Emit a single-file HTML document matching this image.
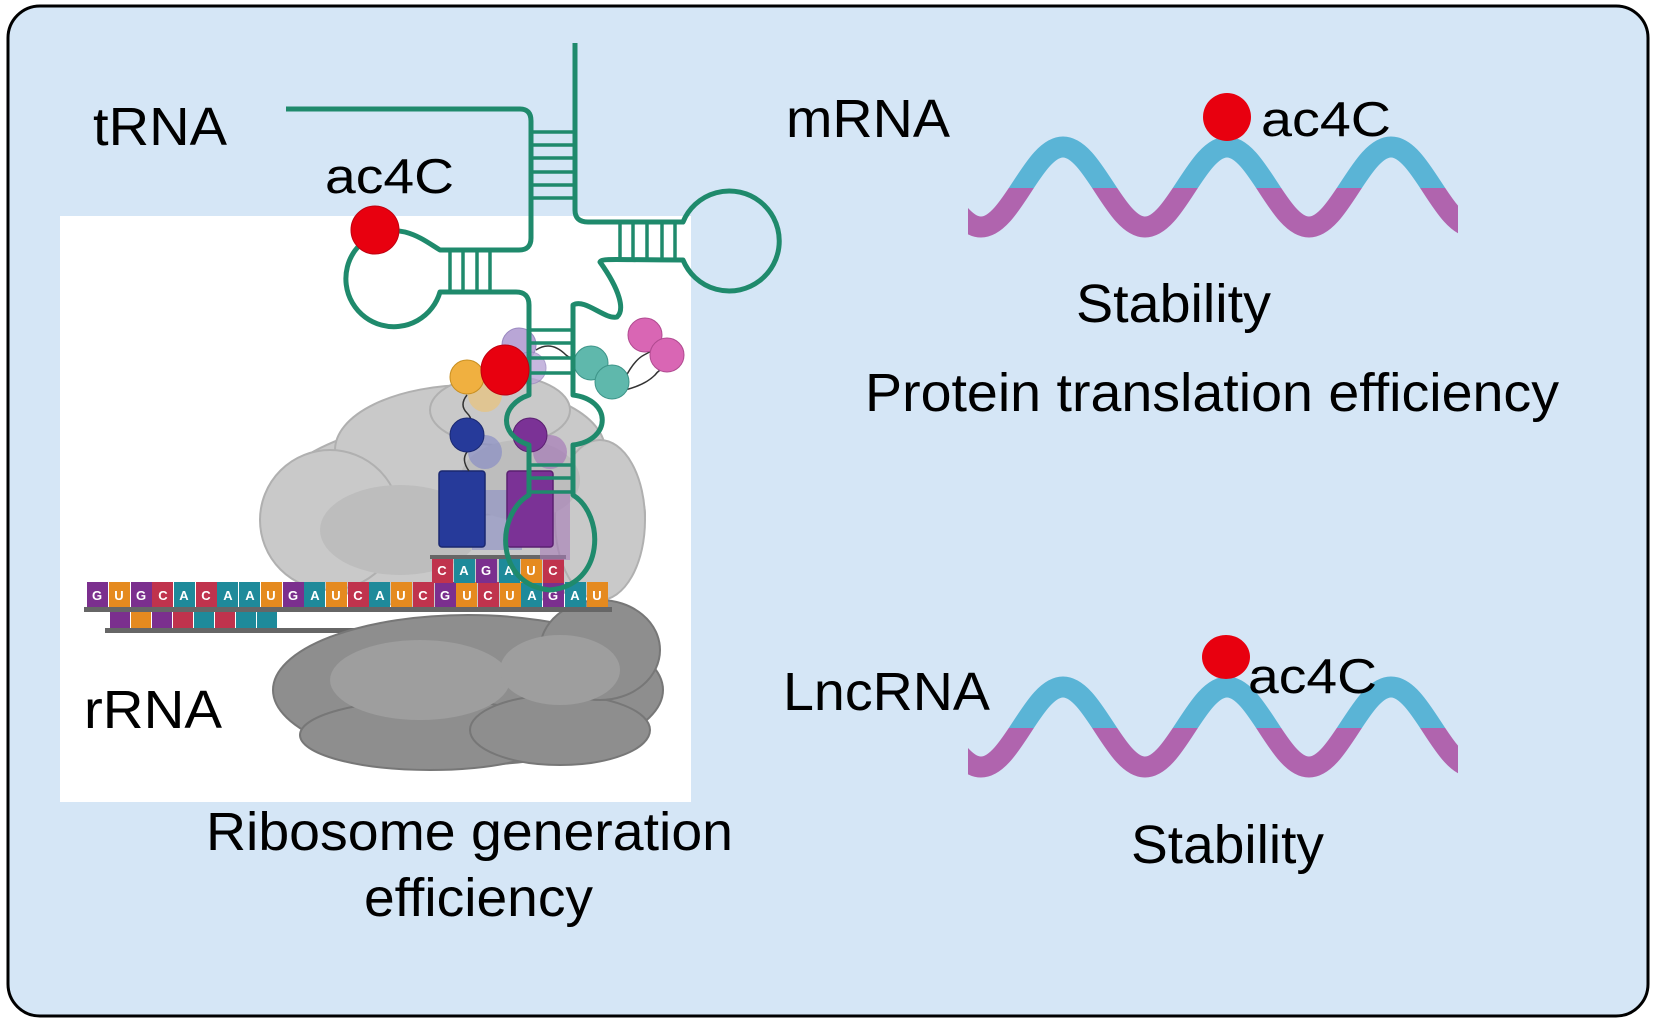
<!DOCTYPE html>
<html><head><meta charset="utf-8"><style>
html,body{margin:0;padding:0;background:#fff;}
svg{display:block;}
text{font-family:"Liberation Sans",Arial,sans-serif;fill:#000;}
.t{font-size:54px;}
.s{font-size:49px;}
.l{font-family:"Liberation Sans",sans-serif;font-size:13px;font-weight:bold;fill:#fff;}
</style></head><body>
<svg width="1654" height="1023" viewBox="0 0 1654 1023" xmlns="http://www.w3.org/2000/svg">
<defs>
<clipPath id="cw"><rect x="968" y="0" width="490" height="1023"/></clipPath>
<clipPath id="top"><rect x="0" y="0" width="1654" height="188"/></clipPath>
<clipPath id="bot"><rect x="0" y="188" width="1654" height="200"/></clipPath>
<path id="wave" d="M899,147 C929,147 951,227 981,227 C1011,227 1033,147 1063,147 C1093,147 1115,227 1145,227 C1175,227 1197,147 1227,147 C1257,147 1279,227 1309,227 C1339,227 1361,147 1391,147 C1421,147 1443,227 1473,227 C1503,227 1525,147 1555,147" fill="none" stroke-width="21"/>
</defs>
<rect x="8" y="6" width="1640" height="1010" rx="32" fill="#d5e6f6" stroke="#000" stroke-width="3"/>
<rect x="60" y="216" width="631" height="586" fill="#fff"/>

<!-- upper ribosome -->
<g fill="#c9c9c9" stroke="#b0b0b0" stroke-width="2">
<ellipse cx="455" cy="515" rx="190" ry="95"/>
<ellipse cx="470" cy="450" rx="135" ry="65"/>
<ellipse cx="500" cy="410" rx="70" ry="35"/>
<ellipse cx="330" cy="520" rx="70" ry="70"/>
<ellipse cx="600" cy="520" rx="45" ry="80"/>
</g>
<g fill="#bdbdbd"><ellipse cx="400" cy="530" rx="80" ry="45"/><ellipse cx="520" cy="480" rx="60" ry="40"/></g>

<!-- second row tiles -->
<g>
<rect x="110" y="612" width="20" height="16" fill="#7b2f8e"/><rect x="131" y="612" width="20" height="16" fill="#e58a1f"/>
<rect x="152" y="612" width="20" height="16" fill="#7b2f8e"/><rect x="173" y="612" width="20" height="16" fill="#c0334d"/>
<rect x="194" y="612" width="20" height="16" fill="#1e8a9a"/><rect x="215" y="612" width="20" height="16" fill="#c0334d"/>
<rect x="236" y="612" width="20" height="16" fill="#1e8a9a"/><rect x="257" y="612" width="20" height="16" fill="#1e8a9a"/>
<rect x="105" y="628" width="528" height="5" fill="#666"/>
</g>

<!-- lower ribosome -->
<g fill="#8e8e8e" stroke="#777" stroke-width="2">
<ellipse cx="468" cy="690" rx="195" ry="75"/>
<ellipse cx="430" cy="735" rx="130" ry="35"/>
<ellipse cx="560" cy="730" rx="90" ry="35"/>
<ellipse cx="600" cy="650" rx="60" ry="50"/>
</g>
<g fill="#9e9e9e"><ellipse cx="420" cy="680" rx="90" ry="40"/><ellipse cx="560" cy="670" rx="60" ry="35"/></g>

<!-- main row tiles -->
<g>
<rect x="87" y="582" width="21" height="25" fill="#7b2f8e"/><rect x="109" y="582" width="21" height="25" fill="#e58a1f"/>
<rect x="131" y="582" width="21" height="25" fill="#7b2f8e"/><rect x="152" y="582" width="21" height="25" fill="#c0334d"/>
<rect x="174" y="582" width="21" height="25" fill="#1e8a9a"/><rect x="196" y="582" width="21" height="25" fill="#c0334d"/>
<rect x="217" y="582" width="21" height="25" fill="#1e8a9a"/><rect x="239" y="582" width="21" height="25" fill="#1e8a9a"/>
<rect x="261" y="582" width="21" height="25" fill="#e58a1f"/><rect x="283" y="582" width="21" height="25" fill="#7b2f8e"/>
<rect x="304" y="582" width="21" height="25" fill="#1e8a9a"/><rect x="326" y="582" width="21" height="25" fill="#e58a1f"/>
<rect x="348" y="582" width="21" height="25" fill="#c0334d"/><rect x="369" y="582" width="21" height="25" fill="#1e8a9a"/>
<rect x="391" y="582" width="21" height="25" fill="#e58a1f"/><rect x="413" y="582" width="21" height="25" fill="#c0334d"/>
<rect x="435" y="582" width="21" height="25" fill="#7b2f8e"/><rect x="456" y="582" width="21" height="25" fill="#e58a1f"/>
<rect x="478" y="582" width="21" height="25" fill="#c0334d"/><rect x="500" y="582" width="21" height="25" fill="#e58a1f"/>
<rect x="521" y="582" width="21" height="25" fill="#1e8a9a"/><rect x="543" y="582" width="21" height="25" fill="#7b2f8e"/>
<rect x="565" y="582" width="21" height="25" fill="#1e8a9a"/><rect x="587" y="582" width="21" height="25" fill="#e58a1f"/>
<rect x="84" y="607" width="528" height="5" fill="#666"/>
</g>
<g text-anchor="middle">
<text class="l" x="97" y="600">G</text><text class="l" x="119" y="600">U</text><text class="l" x="141" y="600">G</text><text class="l" x="163" y="600">C</text>
<text class="l" x="184" y="600">A</text><text class="l" x="206" y="600">C</text><text class="l" x="228" y="600">A</text><text class="l" x="250" y="600">A</text>
<text class="l" x="271" y="600">U</text><text class="l" x="293" y="600">G</text><text class="l" x="315" y="600">A</text><text class="l" x="336" y="600">U</text>
<text class="l" x="358" y="600">C</text><text class="l" x="380" y="600">A</text><text class="l" x="401" y="600">U</text><text class="l" x="423" y="600">C</text>
<text class="l" x="445" y="600">G</text><text class="l" x="467" y="600">U</text><text class="l" x="488" y="600">C</text><text class="l" x="510" y="600">U</text>
<text class="l" x="532" y="600">A</text><text class="l" x="553" y="600">G</text><text class="l" x="575" y="600">A</text><text class="l" x="597" y="600">U</text>
</g>

<!-- codon tiles -->
<rect x="430" y="555" width="136" height="4" fill="#666"/>
<rect x="432" y="559" width="21" height="24" fill="#c0334d"/><rect x="454" y="559" width="21" height="24" fill="#1e8a9a"/>
<rect x="476" y="559" width="21" height="24" fill="#7b2f8e"/><rect x="499" y="559" width="21" height="24" fill="#1e8a9a"/>
<rect x="521" y="559" width="21" height="24" fill="#e58a1f"/><rect x="543" y="559" width="21" height="24" fill="#c0334d"/>
<text class="l" x="442" y="575" text-anchor="middle">C</text><text class="l" x="464" y="575" text-anchor="middle">A</text>
<text class="l" x="486" y="575" text-anchor="middle">G</text><text class="l" x="509" y="575" text-anchor="middle">A</text>
<text class="l" x="531" y="575" text-anchor="middle">U</text><text class="l" x="553" y="575" text-anchor="middle">C</text>

<!-- tRNA-bound blocks -->
<rect x="472" y="490" width="50" height="60" fill="#8a8ec4" opacity="0.6"/>
<rect x="540" y="490" width="30" height="70" fill="#a77cb8" opacity="0.6"/>
<rect x="439" y="471" width="46" height="76" rx="3" fill="#263a9a" stroke="#1a2870" stroke-width="1.5"/>
<rect x="507" y="471" width="46" height="76" rx="3" fill="#7b3296" stroke="#5a2070" stroke-width="1.5"/>

<!-- linkers -->
<g fill="none" stroke="#333" stroke-width="1.5">
<path d="M467,395 q-8,10 0,18 q8,8 0,16"/>
<path d="M467,452 q-6,8 2,19"/>
<path d="M536,350 q15,-10 30,5 q10,8 25,8"/>
<path d="M624,380 q10,-20 20,-25 q10,-5 15,-10"/>
<path d="M625,390 q20,-5 30,-15 q6,-8 12,-5"/>
</g>

<!-- circles -->
<circle cx="519" cy="345" r="17" fill="#b9a6d6" stroke="#9a88c0"/>
<circle cx="530" cy="368" r="16" fill="#b9a6d6" stroke="#9a88c0" opacity="0.8"/>
<circle cx="485" cy="395" r="17" fill="#e9c37a" opacity="0.7"/>
<circle cx="467" cy="377" r="17" fill="#f0b040" stroke="#c88f20"/>
<circle cx="485" cy="452" r="17" fill="#8a8ec4" opacity="0.7"/>
<circle cx="467" cy="435" r="17" fill="#263a9a" stroke="#1a2870"/>
<circle cx="550" cy="452" r="17" fill="#a77cb8" opacity="0.7"/>
<circle cx="530" cy="435" r="17" fill="#7b3296" stroke="#5a2070"/>
<circle cx="591" cy="363" r="17" fill="#5fb8ac" stroke="#3d9488"/>
<circle cx="612" cy="382" r="17" fill="#5fb8ac" stroke="#3d9488"/>
<circle cx="645" cy="335" r="17" fill="#d966b4" stroke="#b04a90"/>
<circle cx="667" cy="355" r="17" fill="#d966b4" stroke="#b04a90"/>

<!-- tRNA -->
<g fill="none" stroke="#1f8a6c" stroke-width="5" stroke-linejoin="round">
<path d="M286,109 H520 Q531,109 531,121 V238 Q531,250 519,250 H440 C430,244 420,236 405,232 A48,48 0 1 0 440,292 H516 Q529,292 529,305 V395 C500,405 498,435 529,445 V495 C495,515 495,585 550,590 C605,585 605,515 573,495 V445 C612,440 612,400 573,395 V305 C585,298 605,320 617,317 C625,310 620,290 600,262 C602,258 612,260 683,260 A50,50 0 1 0 683,222 H588 Q575,222 575,210 V43"/>
</g>
<g stroke="#1f8a6c" stroke-width="3.5">
<line x1="531" y1="132" x2="575" y2="132"/><line x1="531" y1="145" x2="575" y2="145"/>
<line x1="531" y1="158" x2="575" y2="158"/><line x1="531" y1="172" x2="575" y2="172"/>
<line x1="531" y1="185" x2="575" y2="185"/><line x1="531" y1="198" x2="575" y2="198"/>
<line x1="620" y1="222" x2="620" y2="260"/><line x1="633" y1="222" x2="633" y2="260"/>
<line x1="647" y1="222" x2="647" y2="260"/><line x1="662" y1="222" x2="662" y2="260"/>
<line x1="675" y1="222" x2="675" y2="260"/>
<line x1="450" y1="250" x2="450" y2="292"/><line x1="463" y1="250" x2="463" y2="292"/>
<line x1="477" y1="250" x2="477" y2="292"/><line x1="490" y1="250" x2="490" y2="292"/>
<line x1="529" y1="330" x2="573" y2="330"/><line x1="529" y1="343" x2="573" y2="343"/>
<line x1="529" y1="358" x2="573" y2="358"/><line x1="529" y1="373" x2="573" y2="373"/>
<line x1="529" y1="465" x2="573" y2="465"/><line x1="529" y1="478" x2="573" y2="478"/>
<line x1="529" y1="492" x2="573" y2="492"/>
</g>
<circle cx="375" cy="230" r="24" fill="#e8000f" stroke="#c00010"/>
<ellipse cx="505" cy="370" rx="24" ry="25" fill="#e8000f" stroke="#c00010"/>

<!-- waves -->
<g clip-path="url(#cw)">
<use href="#wave" stroke="#5ab4d6" clip-path="url(#top)"/>
<use href="#wave" stroke="#b064ae" clip-path="url(#bot)"/>
<g transform="translate(0,540)">
<use href="#wave" stroke="#5ab4d6" clip-path="url(#top)"/>
<use href="#wave" stroke="#b064ae" clip-path="url(#bot)"/>
</g>
</g>
<circle cx="1227" cy="117" r="24" fill="#e8000f"/>
<ellipse cx="1226" cy="657" rx="24" ry="22" fill="#e8000f"/>

<!-- labels -->
<text class="t" x="93" y="145" textLength="134" lengthAdjust="spacingAndGlyphs">tRNA</text>
<text class="s" x="325" y="193" textLength="129" lengthAdjust="spacingAndGlyphs">ac4C</text>
<text class="t" x="786" y="137" textLength="164" lengthAdjust="spacingAndGlyphs">mRNA</text>
<text class="s" x="1261" y="136" textLength="130" lengthAdjust="spacingAndGlyphs">ac4C</text>
<text class="t" x="1076" y="322" textLength="195" lengthAdjust="spacingAndGlyphs">Stability</text>
<text class="t" x="865" y="411" textLength="694" lengthAdjust="spacingAndGlyphs">Protein translation efficiency</text>
<text class="t" x="783" y="710" textLength="207" lengthAdjust="spacingAndGlyphs">LncRNA</text>
<text class="s" x="1248" y="693" textLength="129" lengthAdjust="spacingAndGlyphs">ac4C</text>
<text class="t" x="1131" y="863" textLength="193" lengthAdjust="spacingAndGlyphs">Stability</text>
<text class="t" x="84" y="728" textLength="138" lengthAdjust="spacingAndGlyphs">rRNA</text>
<text class="t" x="206" y="850" textLength="527" lengthAdjust="spacingAndGlyphs">Ribosome generation</text>
<text class="t" x="364" y="916" textLength="229" lengthAdjust="spacingAndGlyphs">efficiency</text>
</svg>
</body></html>
